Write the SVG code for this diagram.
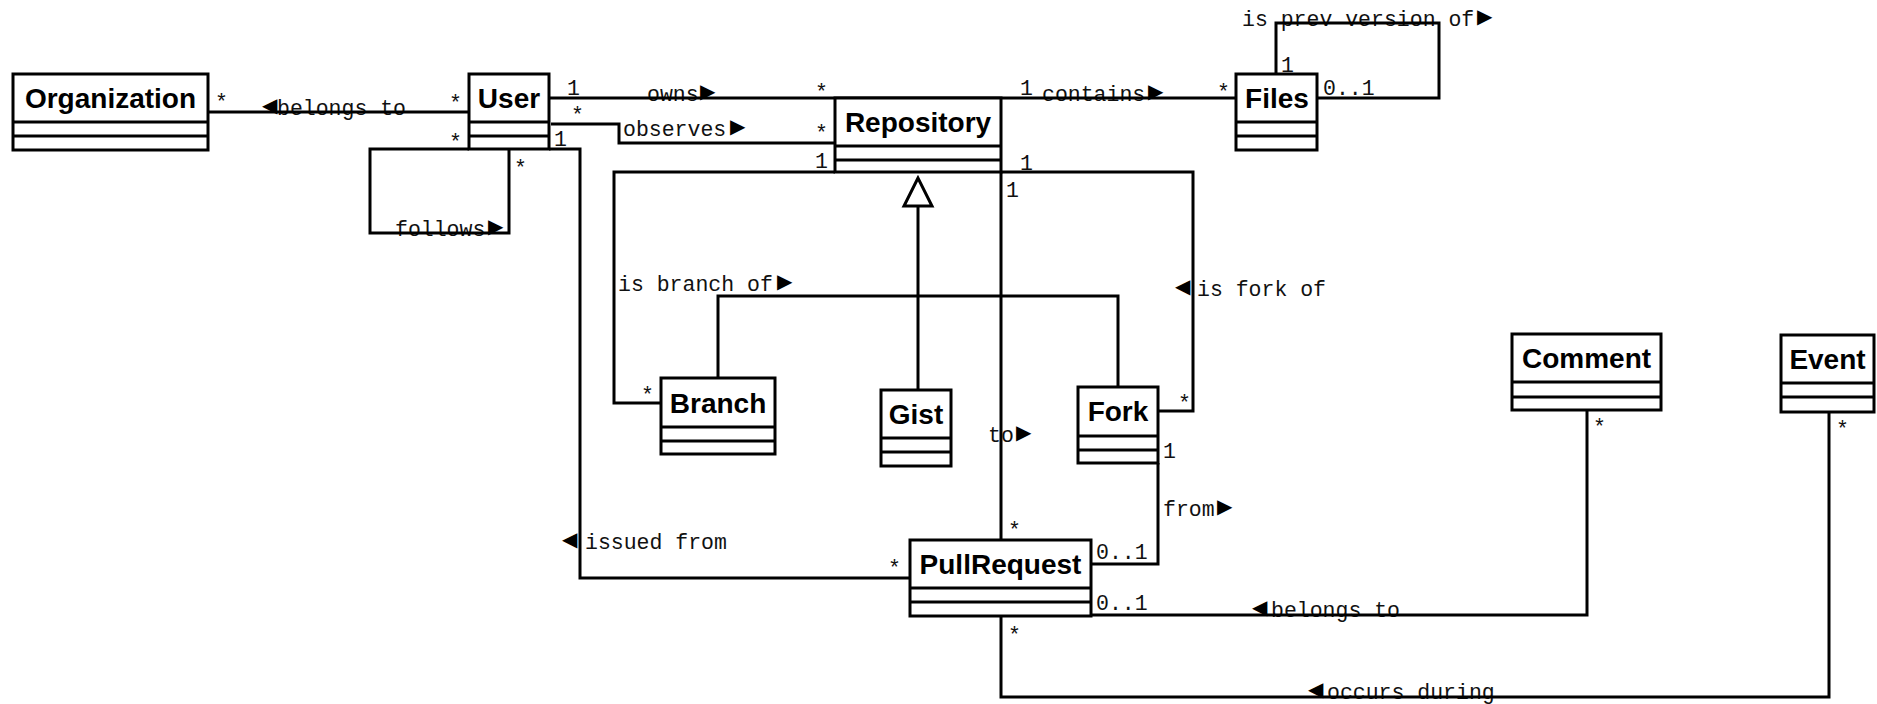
<svg xmlns="http://www.w3.org/2000/svg" width="1877" height="704" viewBox="0 0 1877 704">
<style>
.box{fill:#fff;stroke:#000;stroke-width:3}
.sep{stroke:#000;stroke-width:3}
.ln{fill:none;stroke:#000;stroke-width:3}
.cn{font-family:"Liberation Sans",Arial,sans-serif;font-weight:bold;font-size:28px;text-anchor:middle;fill:#000}
.lb{font-family:"Liberation Mono","Courier New",monospace;font-size:21.5px;fill:#111}
.ar{font-family:"DejaVu Sans",sans-serif;font-size:20px;fill:#000}
</style>
<rect width="1877" height="704" fill="#fff"/>

<g id="connectors">
  <g class="labels">
    <text class="lb" x="262" y="115"><tspan class="ar" dy="-3">◀</tspan><tspan x="277" dy="3">belongs to</tspan></text>
    <text class="lb" x="395" y="236">follows<tspan class="ar" x="488" dy="-3">▶</tspan></text>
    <text class="lb" x="647" y="101">owns<tspan class="ar" x="700" dy="-3">▶</tspan></text>
    <text class="lb" x="623" y="136">observes<tspan class="ar" x="730" dy="-3">▶</tspan></text>
    <text class="lb" x="1042" y="101">contains<tspan class="ar" x="1148" dy="-3">▶</tspan></text>
    <text class="lb" x="1242" y="26">is prev version of<tspan class="ar" x="1477" dy="-3">▶</tspan></text>
    <text class="lb" x="618" y="291">is branch of<tspan class="ar" x="777" dy="-3">▶</tspan></text>
    <text class="lb" x="1175" y="296"><tspan class="ar" dy="-3">◀</tspan><tspan x="1197" dy="3">is fork of</tspan></text>
    <text class="lb" x="988" y="442">to<tspan class="ar" x="1016" dy="-3">▶</tspan></text>
    <text class="lb" x="562" y="549"><tspan class="ar" dy="-3">◀</tspan><tspan x="585" dy="3">issued from</tspan></text>
    <text class="lb" x="1163" y="516">from<tspan class="ar" x="1217" dy="-3">▶</tspan></text>
    <text class="lb" x="1252" y="617"><tspan class="ar" dy="-3">◀</tspan><tspan x="1271" dy="3">belongs to</tspan></text>
    <text class="lb" x="1308" y="699"><tspan class="ar" dy="-3">◀</tspan><tspan x="1327" dy="3">occurs during</tspan></text>
  </g>
  <g class="lines">
    <polyline class="ln" points="208,112 469,112"/>
    <polyline class="ln" points="509,149 509,233 370,233 370,149 469,149"/>
    <polyline class="ln" points="549,98 1236,98"/>
    <polyline class="ln" points="551,124 619,124 619,143 835,143"/>
    <polyline class="ln" points="549,149 580,149 580,578 910,578"/>
    <polyline class="ln" points="1276,74 1276,23 1439,23 1439,98 1317,98"/>
    <polyline class="ln" points="835,172 614,172 614,403 661,403"/>
    <polyline class="ln" points="1001,172 1193,172 1193,411 1158,411"/>
    <polyline class="ln" points="718,378 718,296 1118,296 1118,387"/>
    <polyline class="ln" points="1001,172 1001,540"/>
    <polyline class="ln" points="918,390 918,206"/>
    <polygon points="918,178 904,206 932,206" fill="#fff" stroke="#000" stroke-width="3" stroke-linejoin="miter"/>
    <polyline class="ln" points="1158,463 1158,564 1091,564"/>
    <polyline class="ln" points="1091,615 1587,615 1587,410"/>
    <polyline class="ln" points="1001,616 1001,697 1829,697 1829,412"/>
  </g>
  <g class="mult">
    <text class="lb" x="215" y="109">*</text>
    <text class="lb" x="449" y="110">*</text>
    <text class="lb" x="449" y="149">*</text>
    <text class="lb" x="514" y="175">*</text>
    <text class="lb" x="567" y="95">1</text>
    <text class="lb" x="571" y="122">*</text>
    <text class="lb" x="554" y="146">1</text>
    <text class="lb" x="815" y="99">*</text>
    <text class="lb" x="815" y="140">*</text>
    <text class="lb" x="815" y="168">1</text>
    <text class="lb" x="1020" y="95">1</text>
    <text class="lb" x="1217" y="99">*</text>
    <text class="lb" x="1020" y="170">1</text>
    <text class="lb" x="1006" y="197">1</text>
    <text class="lb" x="1281" y="72">1</text>
    <text class="lb" x="1323" y="95">0..1</text>
    <text class="lb" x="641" y="402">*</text>
    <text class="lb" x="1178" y="410">*</text>
    <text class="lb" x="1163" y="458">1</text>
    <text class="lb" x="1096" y="559">0..1</text>
    <text class="lb" x="1096" y="610">0..1</text>
    <text class="lb" x="1008" y="537">*</text>
    <text class="lb" x="888" y="575">*</text>
    <text class="lb" x="1008" y="642">*</text>
    <text class="lb" x="1593" y="434">*</text>
    <text class="lb" x="1836" y="436">*</text>
  </g>
</g>

<g id="Organization"><rect class="box" x="13" y="74" width="195" height="76"/><line class="sep" x1="13" y1="122" x2="208" y2="122"/><line class="sep" x1="13" y1="136" x2="208" y2="136"/><text class="cn" x="110.5" y="108">Organization</text></g>
<g id="User"><rect class="box" x="469" y="74" width="80" height="75"/><line class="sep" x1="469" y1="122" x2="549" y2="122"/><line class="sep" x1="469" y1="136" x2="549" y2="136"/><text class="cn" x="509" y="108">User</text></g>
<g id="Repository"><rect class="box" x="835" y="98" width="166" height="74"/><line class="sep" x1="835" y1="146" x2="1001" y2="146"/><line class="sep" x1="835" y1="160" x2="1001" y2="160"/><text class="cn" x="918" y="132">Repository</text></g>
<g id="Files"><rect class="box" x="1236" y="74" width="81" height="76"/><line class="sep" x1="1236" y1="122" x2="1317" y2="122"/><line class="sep" x1="1236" y1="136" x2="1317" y2="136"/><text class="cn" x="1277" y="108">Files</text></g>
<g id="Branch"><rect class="box" x="661" y="378" width="114" height="76"/><line class="sep" x1="661" y1="427" x2="775" y2="427"/><line class="sep" x1="661" y1="441" x2="775" y2="441"/><text class="cn" x="718" y="413">Branch</text></g>
<g id="Gist"><rect class="box" x="881" y="390" width="70" height="76"/><line class="sep" x1="881" y1="438" x2="951" y2="438"/><line class="sep" x1="881" y1="452" x2="951" y2="452"/><text class="cn" x="916" y="424">Gist</text></g>
<g id="Fork"><rect class="box" x="1078" y="387" width="80" height="76"/><line class="sep" x1="1078" y1="436" x2="1158" y2="436"/><line class="sep" x1="1078" y1="450" x2="1158" y2="450"/><text class="cn" x="1118" y="421">Fork</text></g>
<g id="PullRequest"><rect class="box" x="910" y="540" width="181" height="76"/><line class="sep" x1="910" y1="588" x2="1091" y2="588"/><line class="sep" x1="910" y1="602" x2="1091" y2="602"/><text class="cn" x="1000.5" y="574">PullRequest</text></g>
<g id="Comment"><rect class="box" x="1512" y="334" width="149" height="76"/><line class="sep" x1="1512" y1="382" x2="1661" y2="382"/><line class="sep" x1="1512" y1="397" x2="1661" y2="397"/><text class="cn" x="1586.5" y="368">Comment</text></g>
<g id="Event"><rect class="box" x="1781" y="335" width="93" height="77"/><line class="sep" x1="1781" y1="383" x2="1874" y2="383"/><line class="sep" x1="1781" y1="397" x2="1874" y2="397"/><text class="cn" x="1827.5" y="369">Event</text></g>
</svg>
